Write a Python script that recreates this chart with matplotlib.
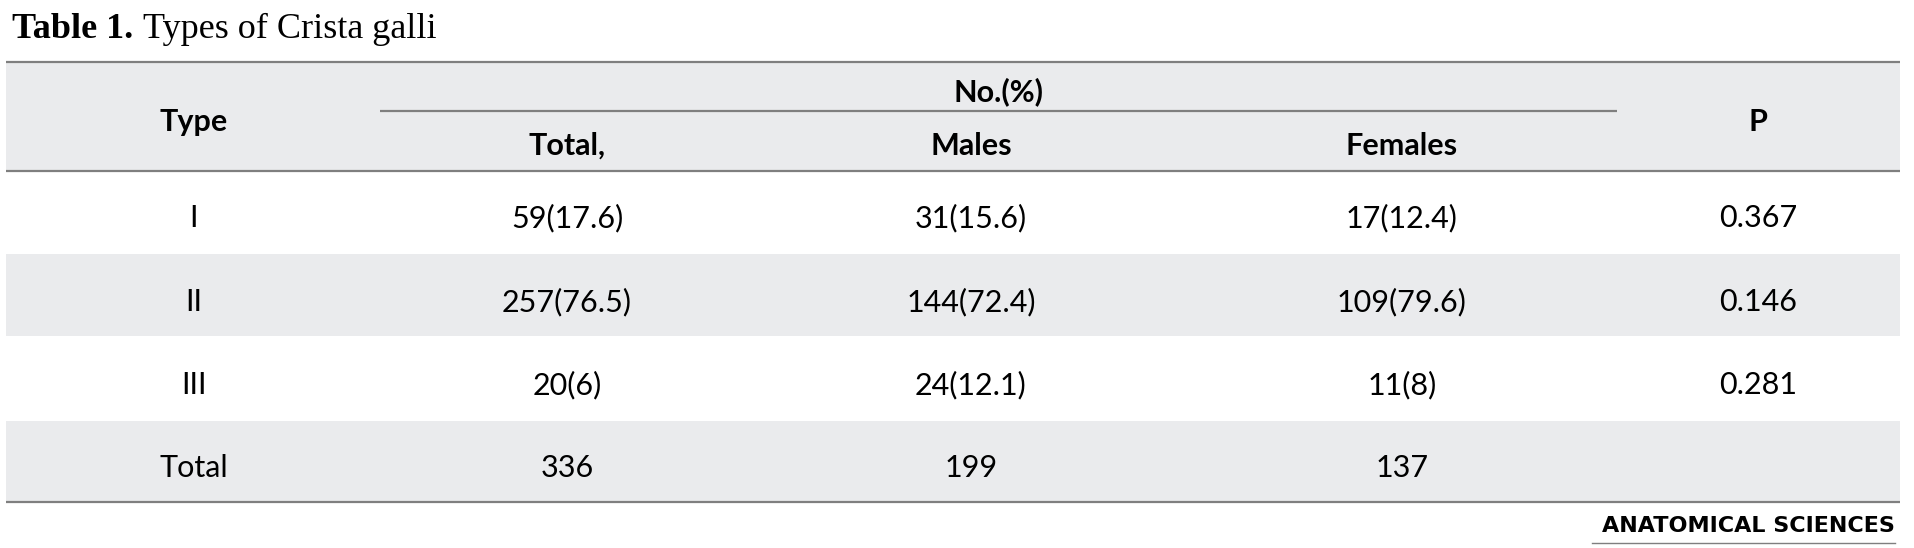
"""Table 1 (Types of Crista galli) redrawn as a matplotlib figure."""
import matplotlib
matplotlib.use("Agg")
import matplotlib.pyplot as plt
from matplotlib.patches import Rectangle

# ---- table content ----
types = ["I", "II", "III", "Total"]
total_n = ["59(17.6)", "257(76.5)", "20(6)", "336"]
males_n = ["31(15.6)", "144(72.4)", "24(12.1)", "199"]
females_n = ["17(12.4)", "109(79.6)", "11(8)", "137"]
p_values = ["0.367", "0.146", "0.281", ""]
sub_headers = ["Total,", "Males", "Females"]

W, H = 1915, 548
SHADE = "#EAEBED"
RULE = "#7F7F7F"
BODY_FONT = "Lato"
FS = 22

fig = plt.figure(figsize=(W / 100, H / 100), dpi=100)
ax = fig.add_axes([0, 0, 1, 1])
ax.set_xlim(0, W)
ax.set_ylim(H, 0)
ax.axis("off")

x_left, x_right = 6, 1900
col_x = [194, 567, 971, 1402, 1758]

# shaded bands: header, row II, total row
for y0, y1 in [(62, 171), (254, 336), (421, 502)]:
    ax.add_patch(Rectangle((x_left, y0), x_right - x_left, y1 - y0,
                           facecolor=SHADE, edgecolor="none", zorder=0))

# rules
for y in (62, 171, 502):
    ax.plot([x_left, x_right], [y, y], color=RULE, lw=1.6,
            solid_capstyle="butt", zorder=2)
ax.plot([380, 1617], [111, 111], color=RULE, lw=1.6,
        solid_capstyle="butt", zorder=2)

# title: bold label, then regular text right after it
t1 = ax.text(12, 38, "Table 1.", fontsize=26, fontweight="bold",
             family="Liberation Serif", ha="left", va="baseline")
fig.canvas.draw()
bb = t1.get_window_extent()
x_after = bb.x1 + 10  # display px == data px here
ax.text(x_after, 38, "Types of Crista galli", fontsize=26,
        family="Liberation Serif", ha="left", va="baseline")

# header
hd = dict(fontsize=FS, fontweight="bold", family=BODY_FONT, va="baseline",
          ha="center")
ax.text(col_x[0], 131, "Type", **hd)
ax.text(col_x[4], 131, "P", **hd)
ax.text(999, 101, "No.(%)", **hd)
for x, label in zip(col_x[1:4], sub_headers):
    ax.text(x, 155, label, **hd)

# body rows
bd = dict(fontsize=FS, family=BODY_FONT, va="baseline", ha="center")
row_base = [227, 311, 394, 477]
for i, yb in enumerate(row_base):
    cells = [types[i], total_n[i], males_n[i], females_n[i], p_values[i]]
    for x, s in zip(col_x, cells):
        ax.text(x, yb, s, **bd)

# journal mark
ax.text(1895, 532, "ANATOMICAL SCIENCES", fontsize=16, fontweight="bold",
        family="DejaVu Sans", ha="right", va="baseline")
ax.plot([1592, 1895], [543, 543], color=RULE, lw=1.0)

fig.savefig("out.png", dpi=100, facecolor="white")
